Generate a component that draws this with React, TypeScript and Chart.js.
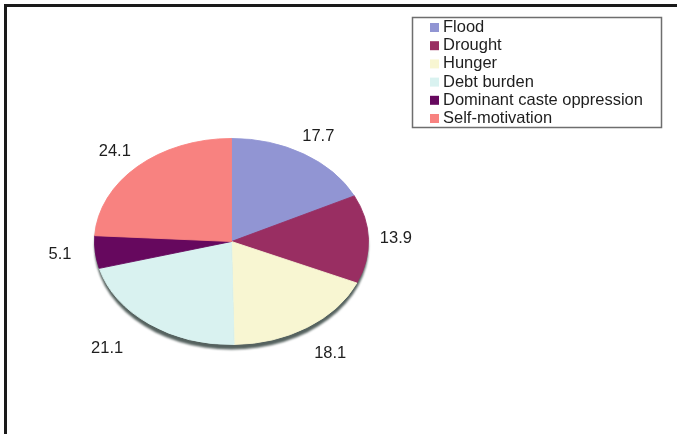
import React, { useEffect, useRef } from "react";
import { Chart, registerables } from "chart.js";

Chart.register(...registerables);

const categories = [
  "Flood",
  "Drought",
  "Hunger",
  "Debt burden",
  "Dominant caste oppression",
  "Self-motivation",
];
const values = [17.7, 13.9, 18.1, 21.1, 5.1, 24.1];
const valueLabels = ["17.7", "13.9", "18.1", "21.1", "5.1", "24.1"];
const colors = ["#9195d3", "#992e62", "#f8f6d2", "#d9f2f0", "#66085e", "#f88280"];

const TILT = 0.752;
const FONT = '16.5px "Liberation Sans", Arial, sans-serif';

const tiltPlugin = {
  id: "tilt",
  beforeDatasetsDraw(chart: any) {
    const ctx = chart.ctx;
    const arc = chart.getDatasetMeta(0).data[0];
    if (!arc) return;
    const { x, y, outerRadius } = arc as any;
    // 3D rim / shadow
    ctx.save();
    ctx.filter = "blur(1px)";
    ctx.translate(x, y + 5);
    ctx.scale(1, TILT);
    ctx.beginPath();
    ctx.arc(0, 0, outerRadius, 0, Math.PI * 2);
    ctx.fillStyle = "#55625f";
    ctx.fill();
    ctx.restore();
    ctx.save();
    ctx.translate(x, y);
    ctx.scale(1, TILT);
    ctx.translate(-x, -y);
  },
  afterDatasetsDraw(chart: any) {
    const ctx = chart.ctx;
    ctx.restore();
    const meta = chart.getDatasetMeta(0);
    ctx.save();
    ctx.font = FONT;
    ctx.fillStyle = "#1e1e1e";
    ctx.textAlign = "center";
    ctx.textBaseline = "middle";
    meta.data.forEach((el: any, i: number) => {
      const mid = (el.startAngle + el.endAngle) / 2;
      const s = Math.sin(mid);
      const c = Math.cos(mid);
      const k = 1.2 + 0.12 * Math.max(0, s);
      const kx = k + 0.45 * Math.max(0, -c) * Math.max(0, s) + 0.08 * Math.max(0, -c) * Math.max(0, -s);
      const px = el.x + c * el.outerRadius * kx;
      const py = el.y + s * el.outerRadius * TILT * k;
      ctx.fillText(valueLabels[i], px, py);
    });
    ctx.restore();
  },
  afterDraw(chart: any) {
    const ctx = chart.ctx;
    const W = chart.width;
    const H = chart.height;
    ctx.save();
    // outer frame
    ctx.strokeStyle = "#1a1a1a";
    ctx.lineWidth = 3;
    ctx.beginPath();
    ctx.moveTo(5.5, H + 5);
    ctx.lineTo(5.5, 5.5);
    ctx.lineTo(W + 5, 5.5);
    ctx.stroke();
    // legend box
    const bx = 412.5, by = 17.5, bw = 249, bh = 110;
    ctx.fillStyle = "#ffffff";
    ctx.fillRect(bx, by, bw, bh);
    ctx.strokeStyle = "#6e6e6e";
    ctx.lineWidth = 1.5;
    ctx.strokeRect(bx, by, bw, bh);
    ctx.font = FONT;
    ctx.textAlign = "left";
    ctx.textBaseline = "middle";
    categories.forEach((cat, i) => {
      const cy = 27 + i * 18.2;
      ctx.fillStyle = colors[i];
      ctx.fillRect(430, cy - 4, 9, 9);
      ctx.fillStyle = "#1e1e1e";
      ctx.fillText(cat, 443, cy + 0.5);
    });
    ctx.restore();
  },
};

export default function App() {
  const ref = useRef<HTMLCanvasElement | null>(null);
  useEffect(() => {
    if (!ref.current) return;
    const chart = new Chart(ref.current, {
      type: "pie",
      data: {
        labels: categories,
        datasets: [
          {
            data: values,
            backgroundColor: colors,
            borderColor: colors,
            borderWidth: 1,
          },
        ],
      },
      options: {
        responsive: false,
        animation: false,
        events: [],
        layout: { padding: { left: 94, right: 308, top: 104, bottom: 55 } },
        plugins: {
          legend: { display: false },
          tooltip: { enabled: false },
        },
      },
      plugins: [tiltPlugin],
    });
    return () => chart.destroy();
  }, []);
  return (
    <div style={{ position: "fixed", left: 0, top: 0, width: 677, height: 434, background: "#fff" }}>
      <canvas ref={ref} width={677} height={434} style={{ display: "block" }} />
    </div>
  );
}
